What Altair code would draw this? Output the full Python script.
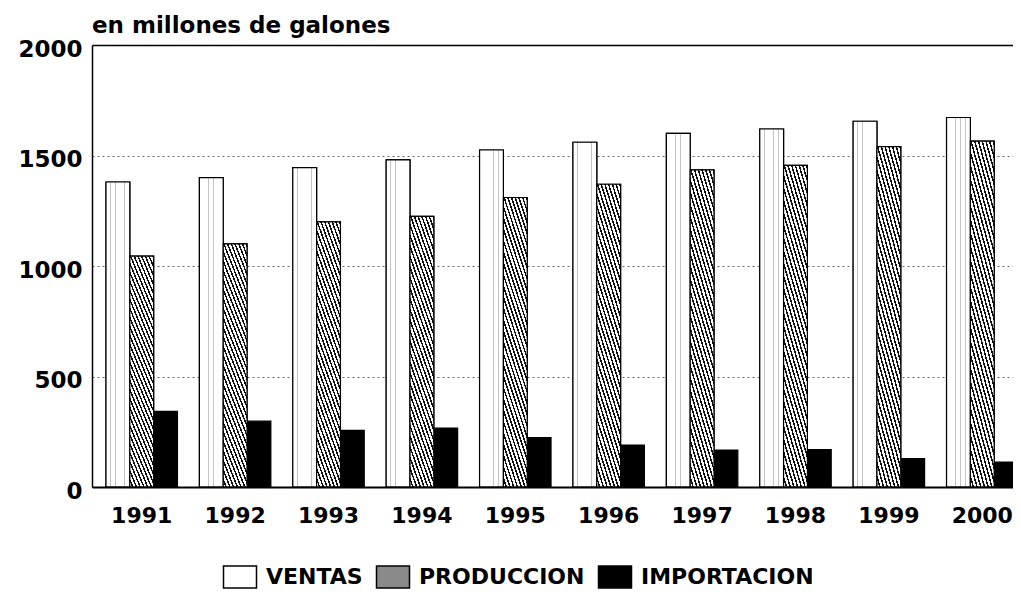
import altair as alt
import pandas as pd

years = ["1991", "1992", "1993", "1994", "1995", "1996", "1997", "1998", "1999", "2000"]
ventas = [1380, 1400, 1445, 1480, 1525, 1560, 1600, 1620, 1655, 1672]
produccion = [1045, 1100, 1200, 1225, 1310, 1370, 1435, 1455, 1540, 1565]
importacion = [342, 298, 256, 267, 223, 190, 167, 169, 128, 113]
series = ["VENTAS", "PRODUCCION", "IMPORTACION"]
y_ticks = [0, 500, 1000, 1500, 2000]

rows = []
for i, yr in enumerate(years):
    rows.append({"anio": yr, "serie": series[0], "valor": ventas[i]})
    rows.append({"anio": yr, "serie": series[1], "valor": produccion[i]})
    rows.append({"anio": yr, "serie": series[2], "valor": importacion[i]})
df = pd.DataFrame(rows)


def stripes(n, dark_frac, dark, light):
    stops = []
    for i in range(n):
        a = round(i / n, 5)
        b = round((i + 1 - dark_frac) / n, 5)
        c = round((i + 1) / n, 5)
        stops += [
            {"offset": a, "color": light},
            {"offset": b, "color": light},
            {"offset": b, "color": dark},
            {"offset": c, "color": dark},
        ]
    return stops


hatch = {"gradient": "linear", "x1": 0, "y1": 1, "x2": 0.294, "y2": -0.176,
         "stops": stripes(32, 0.42, "#111111", "#ffffff")}
dots = {"gradient": "linear", "x1": 0, "y1": 0, "x2": 1, "y2": 0,
        "stops": stripes(5, 0.12, "#c4c4c4", "#ffffff")}

FONT = "DejaVu Sans"

x_enc = alt.X(
    "anio:N", sort=years,
    scale=alt.Scale(range=[0, 940], paddingInner=0.235, paddingOuter=0.15),
    axis=alt.Axis(title=None, labelAngle=0, ticks=False, domain=True,
                  domainColor="black", domainWidth=2, labelFont=FONT,
                  labelFontWeight="bold", labelFontSize=22, labelColor="black",
                  labelPadding=18, zindex=1),
)
xo_enc = alt.XOffset("serie:N", sort=series,
                     scale=alt.Scale(domain=series, paddingInner=0, paddingOuter=0))
y_enc = alt.Y(
    "valor:Q",
    scale=alt.Scale(domain=[0, 2000], nice=False),
    axis=alt.Axis(
        title=None, values=y_ticks, format="d", ticks=False, domain=True,
        domainColor="black", domainWidth=1.5, labelFont=FONT,
        labelFontWeight="bold", labelFontSize=23, labelColor="black",
        labelPadding=10, labelOffset=4, grid=True,
        gridColor={"condition": {"test": "datum.value === 2000", "value": "black"}, "value": "#666666"},
        gridDash={"condition": {"test": "datum.value === 2000", "value": []}, "value": [2, 3]},
        gridWidth={"condition": {"test": "datum.value === 2000", "value": 1.5}, "value": 1},
    ),
)

base = alt.Chart(df).mark_bar(stroke="black", strokeWidth=1.2).encode(
    x=x_enc, xOffset=xo_enc, y=y_enc,
    color=alt.Color(
        "serie:N",
        scale=alt.Scale(domain=series, range=["#ffffff", "#8a8a8a", "#000000"]),
        legend=alt.Legend(
            title=None, orient="none", legendX=136, legendY=520,
            direction="horizontal", symbolType="M-1.5,-1H1.5V1H-1.5Z",
            symbolSize=484, symbolStrokeColor="black", symbolStrokeWidth=1.5,
            symbolOpacity=1, labelFont=FONT, labelFontWeight="bold",
            labelFontSize=22, labelColor="black", labelOffset=14,
            labelLimit=0, columnPadding=10,
        ),
    ),
)

prod_layer = alt.Chart(df).transform_filter("datum.serie == 'PRODUCCION'").mark_bar(
    fill=hatch, stroke="black", strokeWidth=1.2
).encode(x=x_enc, xOffset=xo_enc, y=y_enc)

vent_layer = alt.Chart(df).transform_filter("datum.serie == 'VENTAS'").mark_bar(
    fill=dots, stroke="black", strokeWidth=1.2
).encode(x=x_enc, xOffset=xo_enc, y=y_enc)

chart = alt.layer(base, vent_layer, prod_layer).properties(
    width=921,
    height=442,
    padding={"left": 84, "top": 37, "right": 0, "bottom": 106},
    autosize=alt.AutoSizeParams(type="none"),
    title=alt.TitleParams("en millones de galones", anchor="start", font=FONT,
                          fontWeight="bold", fontSize=23, color="black", offset=0,
                          frame="group"),
).configure_view(stroke=None).configure(background="white")

chart.save("out.html", embed_options={"renderer": "svg", "actions": False})
